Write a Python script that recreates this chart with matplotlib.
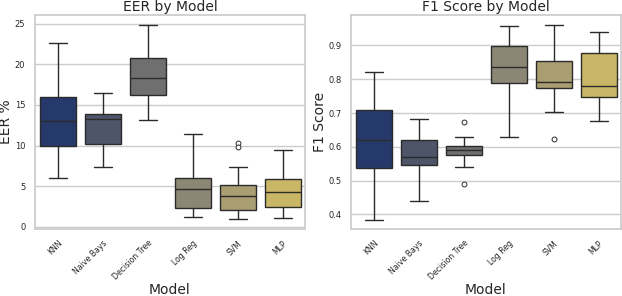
import matplotlib
matplotlib.use("Agg")
import matplotlib.pyplot as plt
import seaborn as sns

models = ["KNN", "Naive Bays", "Decision Tree", "Log Reg", "SVM", "MLP"]
colors = ["#26396b", "#4f5569", "#6f6f70", "#8c8775", "#a99d72", "#c9b767"]

# box stats: low whisker, q1, median, q3, high whisker
eer_low = [6.0, 7.4, 13.1, 1.2, 0.95, 1.1]
eer_q1 = [10.0, 10.15, 16.2, 2.25, 2.0, 2.45]
eer_med = [13.0, 13.25, 18.35, 4.6, 3.8, 4.3]
eer_q3 = [16.0, 13.9, 20.8, 6.05, 5.1, 5.85]
eer_high = [22.6, 16.5, 24.9, 11.4, 7.3, 9.4]
eer_fliers = [[], [], [], [], [10.3, 9.8], []]

f1_low = [0.384, 0.441, 0.539, 0.630, 0.702, 0.677]
f1_q1 = [0.536, 0.545, 0.575, 0.789, 0.774, 0.747]
f1_med = [0.620, 0.569, 0.591, 0.836, 0.792, 0.780]
f1_q3 = [0.708, 0.619, 0.602, 0.899, 0.853, 0.879]
f1_high = [0.820, 0.682, 0.629, 0.956, 0.960, 0.940]
f1_fliers = [[], [], [0.674, 0.489], [], [0.624], []]


def make_stats(low, q1, med, q3, high, fliers):
    return [dict(label=m, whislo=a, q1=b, med=c, q3=d, whishi=e, fliers=f)
            for m, a, b, c, d, e, f in zip(models, low, q1, med, q3, high, fliers)]


def draw(ax, stats, title, ylabel):
    edge = "#2b2b2b"
    bp = ax.bxp(stats, positions=range(len(models)), widths=0.8, patch_artist=True,
                boxprops=dict(edgecolor=edge, linewidth=1.0),
                medianprops=dict(color=edge, linewidth=1.0),
                whiskerprops=dict(color=edge, linewidth=1.0),
                capprops=dict(color=edge, linewidth=1.0),
                capwidths=0.4,
                flierprops=dict(marker="o", markersize=3.5, markerfacecolor="white",
                                markeredgecolor=edge, markeredgewidth=0.7))
    for patch, c in zip(bp["boxes"], colors):
        patch.set_facecolor(c)
    ax.set_xticks(range(len(models)))
    ax.set_xticklabels(models, rotation=45, ha="right", rotation_mode="anchor", fontsize=5.6)
    ax.tick_params(axis="y", labelsize=6, pad=1)
    ax.tick_params(axis="x", pad=1)
    ax.set_xlim(-0.5, len(models) - 0.5)
    ax.set_title(title, fontsize=10, pad=3)
    ax.set_ylabel(ylabel, fontsize=10, labelpad=1)
    ax.set_xlabel("Model", fontsize=10, labelpad=1)
    ax.xaxis.grid(False)
    ax.set_axisbelow(True)


sns.set_theme(style="whitegrid")
fig = plt.figure(figsize=(6.22, 2.96), dpi=100)
ax1 = fig.add_axes([35 / 622, 1 - 229 / 296, 270 / 622, 214 / 296])
ax2 = fig.add_axes([351 / 622, 1 - 229 / 296, 270 / 622, 214 / 296])

draw(ax1, make_stats(eer_low, eer_q1, eer_med, eer_q3, eer_high, eer_fliers), "EER by Model", "EER %")
ax1.set_ylim(-0.3, 26.1)
ax1.set_yticks([0, 5, 10, 15, 20, 25])

draw(ax2, make_stats(f1_low, f1_q1, f1_med, f1_q3, f1_high, f1_fliers), "F1 Score by Model", "F1 Score")
ax2.set_ylim(0.357, 0.99)
ax2.set_yticks([0.4, 0.5, 0.6, 0.7, 0.8, 0.9])

fig.savefig("out.png", dpi=100)
